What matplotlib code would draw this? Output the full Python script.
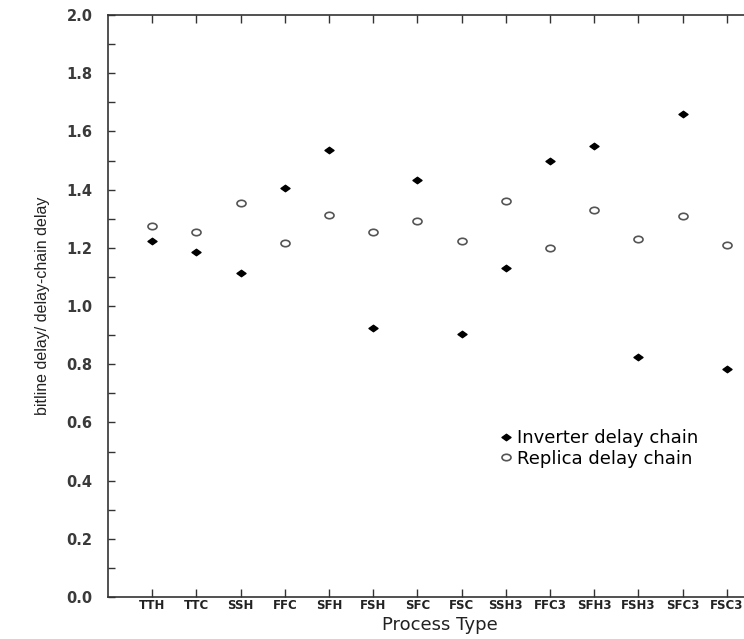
import matplotlib
matplotlib.use("Agg")
import matplotlib.pyplot as plt
from matplotlib.path import Path
from matplotlib.transforms import Affine2D
from matplotlib.ticker import MultipleLocator

categories = ["TTH", "TTC", "SSH", "FFC", "SFH", "FSH", "SFC", "FSC",
              "SSH3", "FFC3", "SFH3", "FSH3", "SFC3", "FSC3"]
inverter = [1.225, 1.185, 1.115, 1.405, 1.535, 0.925, 1.432, 0.905,
            1.132, 1.500, 1.550, 0.825, 1.660, 0.783]
replica = [1.276, 1.255, 1.355, 1.215, 1.313, 1.253, 1.292, 1.222,
           1.362, 1.201, 1.331, 1.231, 1.309, 1.210]
yticks = [0.0, 0.2, 0.4, 0.6, 0.8, 1.0, 1.2, 1.4, 1.6, 1.8, 2.0]

fig = plt.figure(figsize=(7.44, 6.39), dpi=100)
ax = fig.add_axes([108/744, 1-597/639, 663/744, 582/639])

xs = list(range(1, len(categories) + 1))

# slightly widened markers (the scan is stretched horizontally)
ell = Path.unit_circle().transformed(Affine2D().scale(1.4, 1.0))
dia = Path([(0, 1), (1.4, 0), (0, -1), (-1.4, 0), (0, 1)],
           [Path.MOVETO, Path.LINETO, Path.LINETO, Path.LINETO, Path.CLOSEPOLY])

ax.plot(xs, inverter, linestyle="none", marker=dia, markersize=6.5,
        color="black", label="Inverter delay chain")
ax.plot(xs, replica, linestyle="none", marker=ell, markersize=6.5,
        markerfacecolor="white", markeredgecolor="#555555", markeredgewidth=1.2,
        label="Replica delay chain")

ax.set_xlim(0, 15)
ax.set_ylim(0, 2.0)
ax.set_xticks(xs)
ax.set_xticklabels(categories, fontsize=8.5, fontweight="bold",
                   family="DejaVu Sans", color="#222222")
ax.set_yticks(yticks)
ax.set_yticklabels([f"{v:.1f}" for v in yticks], fontsize=10.5,
                   fontweight="bold", family="DejaVu Sans", color="#3a3a3a")
ax.yaxis.set_minor_locator(MultipleLocator(0.1))

for s in ax.spines.values():
    s.set_color("#333333")
    s.set_linewidth(1.2)
ax.spines["right"].set_visible(False)

ax.tick_params(axis="x", which="both", direction="in", length=6, width=1,
               top=True, bottom=True, pad=1.5, color="#333333")
ax.tick_params(axis="y", which="major", direction="in", length=5, width=1,
               pad=11, color="#333333", right=False)
ax.tick_params(axis="y", which="minor", direction="in", length=5, width=1,
               color="#333333", right=False)

ax.set_xlabel("Process Type", fontsize=13, family="DejaVu Sans",
              color="#222222", labelpad=3)
ax.set_ylabel("bitline delay/ delay-chain delay", fontsize=11.5,
              family="Liberation Sans", color="#222222", labelpad=12)

ax.legend(loc="upper left", bbox_to_anchor=(501/744, 1-429/639),
          bbox_transform=fig.transFigure, frameon=False, numpoints=1,
          handlelength=0.5, handletextpad=0.4, borderpad=0, borderaxespad=0,
          labelspacing=0.15, prop={"family": "DejaVu Sans", "size": 13})

fig.savefig("out.png", dpi=100)
